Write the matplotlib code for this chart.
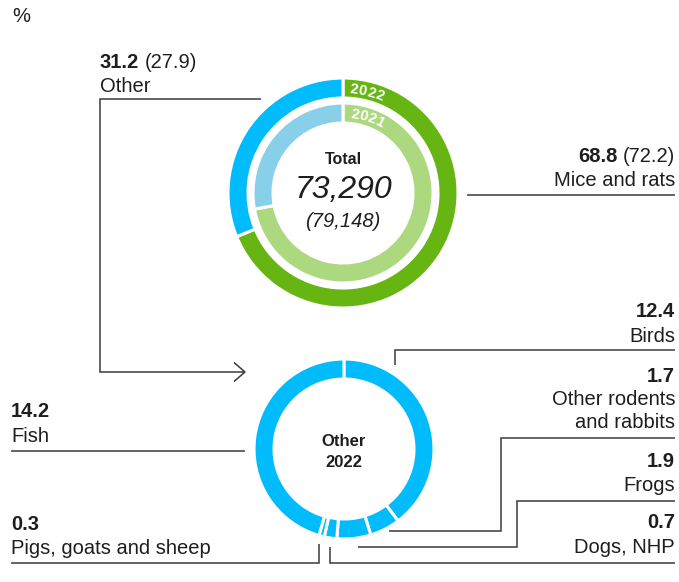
import matplotlib
matplotlib.use("Agg")
import matplotlib.pyplot as plt
import numpy as np

# ---------------- data ----------------
total_labels = ["Mice and rats", "Other"]
total_2022 = [68.8, 31.2]
total_2021 = [72.2, 27.9]
total_count_2022 = "73,290"
total_count_2021 = "(79,148)"

other_labels = ["Birds", "Other rodents\nand rabbits", "Frogs", "Dogs, NHP",
                "Pigs, goats and sheep", "Fish"]
other_2022 = [12.4, 1.7, 1.9, 0.7, 0.3, 14.2]

# ---------------- style ----------------
W, H = 679, 582
GREEN = "#66b512"
LGREEN = "#acd87f"
BLUE = "#00bcfc"
LBLUE = "#88d0ea"
TXT = "#1e1e1e"
LINE = "#3a3a3a"
FONT = "Liberation Sans"
FS = 14.5

plt.rcParams["font.family"] = [FONT, "DejaVu Sans"]

fig = plt.figure(figsize=(W / 100, H / 100), dpi=100)
ax = fig.add_axes([0, 0, 1, 1])


def Y(y):
    return H - y


# ---------------- top donut ----------------
cx1, cy1 = 343, 193
ax.pie(total_2022, radius=115, center=(cx1, Y(cy1)), startangle=90, counterclock=False,
       colors=[GREEN, BLUE], wedgeprops=dict(width=20, edgecolor="white", linewidth=2.2))
ax.pie(total_2021, radius=90, center=(cx1, Y(cy1)), startangle=90, counterclock=False,
       colors=[LGREEN, LBLUE], wedgeprops=dict(width=20, edgecolor="white", linewidth=2.2))

# ---------------- bottom donut ----------------
cx2, cy2 = 344, 449
ax.pie(other_2022, radius=90, center=(cx2, Y(cy2)), startangle=90, counterclock=False,
       colors=[BLUE] * len(other_2022),
       wedgeprops=dict(width=20, edgecolor="white", linewidth=2.2))

ax.set_xlim(0, W)
ax.set_ylim(0, H)
ax.set_aspect("equal")
ax.axis("off")


# curved year labels
def arc_text(s, r, start_deg, step_deg, cx, cy, size):
    for i, ch in enumerate(s):
        th = np.deg2rad(start_deg + i * step_deg)
        x = cx + r * np.sin(th)
        y = Y(cy) + r * np.cos(th)
        ax.text(x, y, ch, color="white", fontsize=size, fontweight="bold",
                rotation=-np.rad2deg(th), ha="center", va="center",
                rotation_mode="anchor")


arc_text("2022", 104, 6.0, 4.9, cx1, cy1, 10.5)
arc_text("2021", 79.5, 8.5, 6.3, cx1, cy1, 10.5)

# center texts
ax.text(cx1, Y(164.3), "Total", ha="center", va="baseline", fontsize=11.5,
        fontweight="bold", color=TXT)
ax.text(cx1, Y(198.3), total_count_2022, ha="center", va="baseline", fontsize=23,
        fontstyle="italic", color=TXT)
ax.text(cx1, Y(226.7), total_count_2021, ha="center", va="baseline", fontsize=14.5,
        fontstyle="italic", color=TXT)
ax.text(cx2, Y(446), "Other", ha="center", va="baseline", fontsize=12,
        fontweight="bold", color=TXT)
ax.text(cx2, Y(466.7), "2022", ha="center", va="baseline", fontsize=12,
        fontweight="bold", color=TXT)

ax.text(12, Y(21.7), "%", ha="left", va="baseline", fontsize=FS, color=TXT)

fig.canvas.draw()
renderer = fig.canvas.get_renderer()


def width_of(t):
    bb = t.get_window_extent(renderer=renderer)
    return bb.width


def value_label(x, y, bold, regular, align):
    """Bold value plus optional regular '(prev)' on one baseline."""
    if align == "right":
        if regular:
            t = ax.text(x, Y(y), regular, ha="right", va="baseline", fontsize=FS, color=TXT)
            w = width_of(t)
            ax.text(x - w - 5, Y(y), bold, ha="right", va="baseline", fontsize=FS,
                    fontweight="bold", color=TXT)
        else:
            ax.text(x, Y(y), bold, ha="right", va="baseline", fontsize=FS,
                    fontweight="bold", color=TXT)
    else:
        t = ax.text(x, Y(y), bold, ha="left", va="baseline", fontsize=FS,
                    fontweight="bold", color=TXT)
        if regular:
            w = width_of(t)
            ax.text(x + w + 5, Y(y), regular, ha="left", va="baseline", fontsize=FS, color=TXT)


def name_label(x, y, s, align):
    ax.text(x, Y(y), s, ha=align, va="baseline", fontsize=FS, color=TXT,
            linespacing=1.15)


# top labels
value_label(100, 68.3, f"{total_2022[1]}", f"({total_2021[1]})", "left")
name_label(100, 91.7, total_labels[1], "left")
value_label(675, 162.3, f"{total_2022[0]}", f"({total_2021[0]})", "right")
name_label(675, 185.7, total_labels[0], "right")

# bottom labels (right side)
RX = 675
value_label(RX, 316.7, f"{other_2022[0]}", None, "right")
name_label(RX, 341.7, other_labels[0], "right")
value_label(RX, 381.7, f"{other_2022[1]}", None, "right")
name_label(RX, 405, "Other rodents", "right")
name_label(RX, 428.3, "and rabbits", "right")
value_label(RX, 466.7, f"{other_2022[2]}", None, "right")
name_label(RX, 490.7, other_labels[2], "right")
value_label(RX, 528.3, f"{other_2022[3]}", None, "right")
name_label(RX, 553.3, other_labels[3], "right")

# bottom labels (left side)
LX = 11
value_label(LX, 416.7, f"{other_2022[5]}", None, "left")
name_label(LX, 441.7, other_labels[5], "left")
value_label(LX, 530, f"{other_2022[4]}", None, "left")
name_label(LX, 554.3, other_labels[4], "left")


# ---------------- leader lines ----------------
def path(pts, lw=1.1):
    xs = [p[0] for p in pts]
    ys = [Y(p[1]) for p in pts]
    ax.plot(xs, ys, color=LINE, lw=lw, solid_joinstyle="miter", solid_capstyle="butt")


path([(261, 99), (99.5, 99), (99.5, 372), (245, 372)])
path([(234, 362.5), (245, 372), (234, 381.5)])
path([(467, 194.5), (675, 194.5)])
path([(394.5, 365), (394.5, 350), (675, 350)])
path([(389, 531), (501, 531), (501, 438), (675, 438)])
path([(358, 547), (517, 547), (517, 501), (675, 501)])
path([(329.5, 546.5), (329.5, 562.5), (675, 562.5)])
path([(319, 543.5), (319, 562.5), (11, 562.5)])
path([(11, 451), (245, 451)])

fig.savefig("out.png", dpi=100)
